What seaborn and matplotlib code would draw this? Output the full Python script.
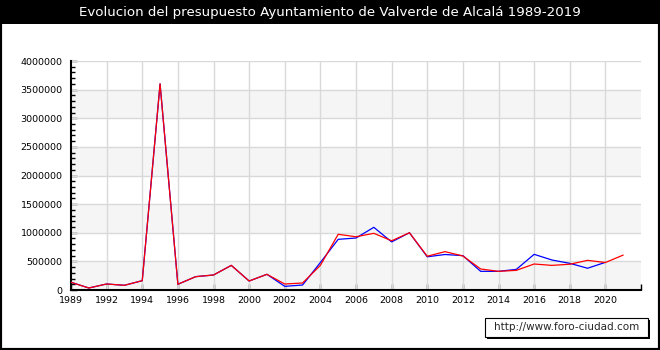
import matplotlib
matplotlib.use('Agg')
import matplotlib.pyplot as plt
import seaborn as sns
import pandas as pd
import numpy as np
from matplotlib.patches import Rectangle
from matplotlib.ticker import MultipleLocator, FuncFormatter

# años (el eje es categórico: falta 1990)
years = [1989, 1991] + list(range(1992, 2022))

# presupuesto (rojo) y serie azul
red_vals = [135000, 35000, 105000, 82000, 163000, 3600000, 100000, 233000,
            262000, 430000, 157000, 274000, 105000, 122000, 430000, 973000,
            930000, 990000, 860000, 1000000, 590000, 670000, 594000, 367000,
            326000, 343000, 454000, 430000, 450000, 518000, 480000, 610000]
blue_vals = [135000, 35000, 105000, 82000, 163000, 3600000, 100000, 233000,
             262000, 430000, 157000, 274000, 64000, 87000, 480000, 885000,
             908000, 1095000, 840000, 1000000, 580000, 620000, 600000, 326000,
             326000, 360000, 623000, 524000, 466000, 380000, 483000, np.nan]

title = 'Evolucion del presupuesto Ayuntamiento de Valverde de Alcalá 1989-2019'
footer = 'http://www.foro-ciudad.com'

df = pd.DataFrame({
    'idx': list(range(len(years))) * 2,
    'valor': blue_vals + red_vals,
    'serie': ['azul'] * len(years) + ['rojo'] * len(years),
})

sns.set_style('white')
plt.rcParams['font.family'] = ['DejaVu Sans']

fig = plt.figure(figsize=(6.6, 3.5), dpi=100)
ax = fig.add_axes([71 / 660, 1 - 290 / 350, 570 / 660, 229 / 350])

# bandas y rejilla
for lo in [0, 1000000, 2000000, 3000000]:
    ax.axhspan(lo, lo + 500000, color='#f5f5f5', zorder=0, lw=0)
for yv in np.arange(500000, 4000001, 500000):
    ax.axhline(yv, color='#d9d9d9', lw=1.0, zorder=1)
for xv in range(2, 31, 2):
    ax.axvline(xv, color='#d9d9d9', lw=1.0, zorder=1)

sns.lineplot(data=df, x='idx', y='valor', hue='serie', hue_order=['azul', 'rojo'],
             palette={'azul': '#0000ff', 'rojo': '#ff0000'}, lw=0.9,
             legend=False, ax=ax, zorder=3)

ax.set_xlim(0, 32)
ax.set_ylim(0, 4000000)
ax.set_xlabel('')
ax.set_ylabel('')

ax.set_xticks(range(0, 33, 2))
ax.set_xticklabels([str(years[i]) for i in range(0, 31, 2)] + [''])
ax.yaxis.set_major_locator(MultipleLocator(500000))
ax.yaxis.set_minor_locator(MultipleLocator(100000))
ax.yaxis.set_major_formatter(FuncFormatter(lambda v, p: '%d' % v))

ax.tick_params(axis='both', which='both', direction='in', colors='black',
               labelsize=6.8)
ax.tick_params(axis='y', which='major', length=4.5, width=1, pad=6, left=True)
ax.tick_params(axis='y', which='minor', length=3, width=1, left=True)
ax.tick_params(axis='x', which='major', length=4, width=1, pad=4, bottom=True)

for s in ['top', 'right']:
    ax.spines[s].set_visible(False)
for s in ['left', 'bottom']:
    ax.spines[s].set_color('black')
    ax.spines[s].set_linewidth(1.5)

# barra del título y marco
fig.add_artist(Rectangle((0, 1 - 24 / 350), 1, 24 / 350, transform=fig.transFigure,
                         facecolor='black', edgecolor='none', zorder=0))
fig.add_artist(Rectangle((0, 0), 1, 1, transform=fig.transFigure, fill=False,
                         edgecolor='black', lw=3, zorder=5))
fig.text(0.5, 1 - 12.5 / 350, title, color='white', fontsize=9.6,
         ha='center', va='center')

# recuadro de la web
fig.add_artist(Rectangle((487 / 660, 1 - 339 / 350), 163 / 660, 19 / 350,
                         transform=fig.transFigure, facecolor='black',
                         edgecolor='none', zorder=2))
fig.add_artist(Rectangle((485 / 660, 1 - 337 / 350), 163 / 660, 19 / 350,
                         transform=fig.transFigure, facecolor='white',
                         edgecolor='black', lw=0.8, zorder=3))
fig.text(566.5 / 660, 1 - 327.5 / 350, footer, fontsize=7.5, ha='center',
         va='center', zorder=4)

fig.savefig('out.png', dpi=100)
